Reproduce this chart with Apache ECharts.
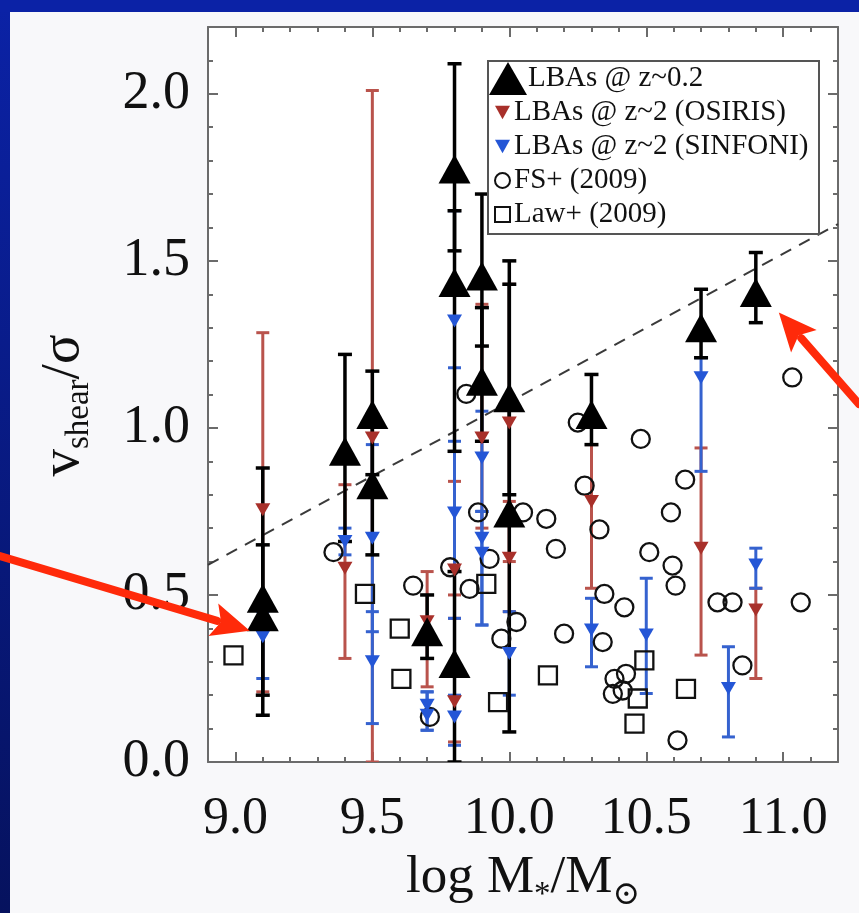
<!DOCTYPE html>
<html>
<head>
<meta charset="utf-8">
<script src="https://cdn.jsdelivr.net/npm/echarts@6/dist/echarts.min.js"></script>
<style>
  html, body { margin: 0; padding: 0; background: #f8f8fa; }
  #chart { width: 859px; height: 913px; }
</style>
</head>
<body>
<div id="chart"></div>
<script>
// ---- LBAs @ z~0.2 (filled black triangles, with error bars)
const lbaX  = [9.1, 9.1, 9.4, 9.5, 9.5, 9.7, 9.8, 9.8, 9.8, 9.9, 9.9, 10.0, 10.0, 10.3, 10.7, 10.9];
const lbaY  = [0.49, 0.435, 0.93, 1.04, 0.83, 0.39, 1.775, 1.435, 0.295, 1.455, 1.14, 1.09, 0.745, 1.04, 1.30, 1.405];
const lbaLo = [0.14, 0.20, 0.66, 0.86, 0.62, 0.31, 1.53, 0.93, 0.0, 1.245, 0.96, 0.80, 0.09, 0.95, 1.21, 1.315];
const lbaHi = [0.88, 0.65, 1.22, 1.17, 1.04, 0.50, 2.09, 1.65, 0.57, 1.70, 1.36, 1.43, 1.50, 1.16, 1.415, 1.525];

// ---- LBAs @ z~2, OSIRIS (red down-triangles)
const osiX  = [9.1, 9.4, 9.5, 9.7, 9.8, 9.8, 9.9, 10.0, 10.0, 10.3, 10.7, 10.9];
const osiY  = [0.755, 0.58, 0.97, 0.42, 0.575, 0.18, 0.97, 1.015, 0.61, 0.78, 0.64, 0.455];
const osiLo = [0.21, 0.31, 0.0, 0.225, 0.43, 0.06, 0.70, 0.60, 0.45, 0.52, 0.32, 0.25];
const osiHi = [1.285, 0.83, 2.01, 0.57, 0.84, 0.50, 1.37, 1.43, 0.78, 0.95, 0.94, 0.52];

// ---- LBAs @ z~2, SINFONI (blue down-triangles)
const sinX  = [9.1, 9.4, 9.5, 9.5, 9.7, 9.7, 9.8, 9.8, 9.8, 9.9, 9.9, 9.9, 10.0, 10.3, 10.5, 10.7, 10.8, 10.9];
const sinY  = [0.375, 0.66, 0.67, 0.30, 0.17, 0.14, 1.32, 0.745, 0.135, 0.91, 0.67, 0.625, 0.325, 0.395, 0.38, 1.15, 0.22, 0.59];
const sinLo = [0.25, 0.62, 0.39, 0.115, 0.095, 0.095, 1.18, 0.43, 0.05, 0.75, 0.41, 0.41, 0.20, 0.285, 0.205, 0.87, 0.075, 0.52];
const sinHi = [0.45, 0.70, 0.95, 0.45, 0.21, 0.21, 1.65, 0.96, 0.20, 1.05, 0.75, 0.75, 0.45, 0.49, 0.55, 1.21, 0.345, 0.64];

// ---- FS+ (2009) (open circles)
const fsX = [9.358, 9.649, 9.71, 9.784, 9.843, 9.855, 9.886, 9.928, 9.971, 10.026, 10.05, 10.135, 10.17, 10.2,
             10.25, 10.275, 10.329, 10.341, 10.347, 10.378, 10.384, 10.414, 10.42, 10.426, 10.48, 10.511,
             10.59, 10.596, 10.607, 10.614, 10.642, 10.76, 10.815, 10.851, 11.033, 11.064];
const fsY = [0.628, 0.528, 0.135, 0.583, 1.102, 0.518, 0.747, 0.608, 0.369, 0.419, 0.747, 0.728, 0.638, 0.384,
             1.016, 0.827, 0.696, 0.359, 0.503, 0.204, 0.249, 0.214, 0.463, 0.264, 0.967, 0.628,
             0.747, 0.588, 0.528, 0.065, 0.845, 0.478, 0.478, 0.289, 1.151, 0.478];

// ---- Law+ (2009) (open squares)
const lawX = [8.993, 9.473, 9.6, 9.606, 9.916, 9.959, 10.141, 10.457, 10.469, 10.493, 10.645];
const lawY = [0.319, 0.503, 0.399, 0.249, 0.533, 0.179, 0.259, 0.115, 0.19, 0.304, 0.219];

// ---- dashed dividing line
const divX = [8.9, 11.2];
const divY = [0.59, 1.61];

// ---- axis ticks
const xTickLabels = [9.0, 9.5, 10.0, 10.5, 11.0];
const xMinorTicks = [9.0, 9.1, 9.2, 9.3, 9.4, 9.5, 9.6, 9.7, 9.8, 9.9, 10.0, 10.1, 10.2, 10.3, 10.4,
                     10.5, 10.6, 10.7, 10.8, 10.9, 11.0, 11.1];
const yTickLabels = [0.0, 0.5, 1.0, 1.5, 2.0];
const yMinorTicks = [0.1, 0.2, 0.3, 0.4, 0.5, 0.6, 0.7, 0.8, 0.9, 1.0, 1.1, 1.2, 1.3, 1.4, 1.5,
                     1.6, 1.7, 1.8, 1.9, 2.0, 2.1];

const SERIF = "'Liberation Serif', 'DejaVu Serif', serif";
const FRAME = '#6b6b6b';
const RED = '#a8302a';
const RED_BAR = '#b9534c';
const BLUE = '#2456d6';
const BLUE_BAR = '#3562cf';

const zip2 = (a, b) => a.map((v, i) => [v, b[i]]);
const zip3 = (a, b, c) => a.map((v, i) => [v, b[i], c[i]]);

function errorBars(id, xs, lo, hi, color, lw, capW, z) {
  return {
    type: 'custom', id: id, name: id, xAxisIndex: 0, yAxisIndex: 0, z: z, silent: true,
    clip: true,
    data: zip3(xs, lo, hi),
    encode: { x: 0, y: [1, 2] },
    renderItem: function (params, api) {
      const x = api.value(0);
      const a = api.coord([x, api.value(1)]);
      const b = api.coord([x, api.value(2)]);
      const st = { stroke: color, lineWidth: lw };
      return {
        type: 'group',
        children: [
          { type: 'line', shape: { x1: a[0], y1: a[1], x2: b[0], y2: b[1] }, style: st },
          { type: 'line', shape: { x1: a[0] - capW / 2, y1: a[1], x2: a[0] + capW / 2, y2: a[1] }, style: st },
          { type: 'line', shape: { x1: b[0] - capW / 2, y1: b[1], x2: b[0] + capW / 2, y2: b[1] }, style: st }
        ]
      };
    }
  };
}

function frameAxis(dim, position, values, len, withLine) {
  return {
    type: 'value', position: position,
    min: dim === 'x' ? 8.9 : 0, max: dim === 'x' ? 11.2 : 2.2,
    axisLine: { show: withLine, onZero: false, lineStyle: { color: FRAME, width: 2 } },
    axisTick: { show: true, inside: true, length: len, customValues: values, lineStyle: { color: FRAME, width: 2 } },
    axisLabel: { show: false },
    splitLine: { show: false }
  };
}

const DOWN_TRI = 'path://M0,0L10,0L5,9Z';

const chart = echarts.init(document.getElementById('chart'), null, { renderer: 'canvas' });

const xMain = frameAxis('x', 'bottom', xTickLabels, 10, true);
xMain.axisLabel = {
  show: true, customValues: xTickLabels, formatter: v => v.toFixed(1),
  margin: 31, fontFamily: SERIF, fontSize: 52, color: '#111'
};
xMain.name = '{m|log M}{s|*}{m|/M}{s|\u2299}';
xMain.nameLocation = 'middle';
xMain.nameGap = 90;
xMain.nameTextStyle = {
  color: '#111', fontFamily: SERIF,
  rich: {
    m: { fontFamily: SERIF, fontSize: 53, color: '#111', lineHeight: 60, verticalAlign: 'top' },
    s: { fontFamily: SERIF, fontSize: 33, color: '#111', lineHeight: 60, verticalAlign: 'bottom', padding: [20, 0, 0, 0] }
  }
};

const yMain = frameAxis('y', 'left', yTickLabels, 10, true);
yMain.axisLabel = {
  show: true, customValues: yTickLabels, formatter: v => v.toFixed(1),
  margin: 18, fontFamily: SERIF, fontSize: 54, color: '#111'
};
yMain.name = '{m|v}{s|shear}{m|/\u03c3}';
yMain.nameLocation = 'middle';
yMain.nameGap = 112;
yMain.nameTextStyle = {
  color: '#111', fontFamily: SERIF, padding: [0, 22, 0, 0],
  rich: {
    m: { fontFamily: SERIF, fontSize: 55, color: '#111', lineHeight: 60, verticalAlign: 'top' },
    s: { fontFamily: SERIF, fontSize: 33, color: '#111', lineHeight: 60, verticalAlign: 'bottom', padding: [20, 0, 0, 0] }
  }
};

const option = {
  backgroundColor: '#f8f8fa',
  animation: false,
  grid: {
    left: 208, top: 27, width: 630, height: 735,
    containLabel: false, outerBoundsMode: 'none',
    show: true, backgroundColor: '#ffffff', borderWidth: 0
  },
  xAxis: [
    xMain,
    frameAxis('x', 'bottom', xMinorTicks, 5, false),
    frameAxis('x', 'top', xTickLabels, 10, true),
    frameAxis('x', 'top', xMinorTicks, 5, false)
  ],
  yAxis: [
    yMain,
    frameAxis('y', 'left', yMinorTicks, 5, false),
    frameAxis('y', 'right', yTickLabels, 10, true),
    frameAxis('y', 'right', yMinorTicks, 5, false)
  ],
  legend: [
    {
      data: ['LBAs @ z~0.2'], left: 489, top: 62, orient: 'vertical',
      itemWidth: 38, itemHeight: 33, itemGap: 0, selectedMode: false, padding: 0, z: 6,
      textStyle: { fontFamily: SERIF, fontSize: 29, color: '#111', padding: [0, 0, 0, -4] }
    },
    {
      data: ['LBAs @ z~2 (OSIRIS)', 'LBAs @ z~2 (SINFONI)', 'FS+ (2009)', 'Law+ (2009)'],
      left: 494, top: 98, orient: 'vertical',
      itemWidth: 15, itemHeight: 15, itemGap: 5, selectedMode: false, padding: 0, z: 6,
      textStyle: { fontFamily: SERIF, fontSize: 29, color: '#111', padding: [0, 0, 0, -1] }
    }
  ],
  series: [
    errorBars('osiris-err', osiX, osiLo, osiHi, RED_BAR, 3, 13, 2),
    errorBars('sinfoni-err', sinX, sinLo, sinHi, BLUE_BAR, 3, 13, 2),
    errorBars('lba-err', lbaX, lbaLo, lbaHi, '#000', 3.5, 14, 3),
    {
      type: 'line', name: 'divide', data: zip2(divX, divY), symbol: 'none', z: 1, silent: true,
      lineStyle: { color: '#3a3a3a', width: 2, type: [12, 9] }
    },
    {
      type: 'scatter', name: 'FS+ (2009)', data: zip2(fsX, fsY), symbol: 'circle', symbolSize: 18, z: 4,
      itemStyle: { color: 'rgba(255,255,255,0)', borderColor: '#111', borderWidth: 2.3, opacity: 1 }
    },
    {
      type: 'scatter', name: 'Law+ (2009)', data: zip2(lawX, lawY), symbol: 'rect', symbolSize: 18, z: 4,
      itemStyle: { color: 'rgba(255,255,255,0)', borderColor: '#111', borderWidth: 2.3, opacity: 1 }
    },
    {
      type: 'scatter', name: 'LBAs @ z~2 (OSIRIS)', data: zip2(osiX, osiY), symbol: DOWN_TRI, symbolSize: [15, 13], z: 5,
      itemStyle: { color: RED, opacity: 1 }
    },
    {
      type: 'scatter', name: 'LBAs @ z~2 (SINFONI)', data: zip2(sinX, sinY), symbol: DOWN_TRI, symbolSize: [15, 13], z: 5,
      itemStyle: { color: BLUE, opacity: 1 }
    },
    {
      type: 'scatter', name: 'LBAs @ z~0.2', data: zip2(lbaX, lbaY), symbol: 'triangle', symbolSize: [32, 29], z: 6,
      itemStyle: { color: '#000', opacity: 1 }
    }
  ],
  graphic: [
    { type: 'rect', id: 'stripLeft', left: 0, top: 0, z: 0, shape: { width: 10, height: 913 },
      style: { fill: new echarts.graphic.LinearGradient(0, 0, 0, 1, [{ offset: 0, color: '#0b22a6' }, { offset: 1, color: '#06125e' }]) } },
    { type: 'rect', id: 'stripTop', left: 0, top: 0, z: 0, shape: { width: 859, height: 12 },
      style: { fill: '#0b22a6' } },
    { type: 'rect', id: 'legendBox', left: 487, top: 60, z: 5, shape: { width: 331, height: 173 },
      style: { fill: '#ffffff', stroke: '#555', lineWidth: 2 } }
  ]
};

chart.setOption(option);

// Red pointer arrows aimed at two of the z~0.2 galaxies
function arrowShapes(id, tip, vec) {
  const len = Math.hypot(vec[0], vec[1]);
  const ux = vec[0] / len, uy = vec[1] / len;
  const headL = 38, headW = 34;
  const base = [tip[0] - ux * headL, tip[1] - uy * headL];
  const start = [tip[0] - vec[0], tip[1] - vec[1]];
  const color = '#ff2a0a';
  return [
    { type: 'line', id: id + '-shaft', z: 50,
      shape: { x1: start[0], y1: start[1], x2: base[0] + ux * 4, y2: base[1] + uy * 4 },
      style: { stroke: color, lineWidth: 8, lineCap: 'round' } },
    { type: 'polygon', id: id + '-head', z: 50,
      shape: { points: [tip, [base[0] - uy * headW / 2, base[1] + ux * headW / 2],
                        [base[0] + ux * 8, base[1] + uy * 8],
                        [base[0] + uy * headW / 2, base[1] - ux * headW / 2]] },
      style: { fill: color } }
  ];
}

const pLeft = chart.convertToPixel({ xAxisIndex: 0, yAxisIndex: 0 }, [lbaX[1], lbaY[1]]);
const pRight = chart.convertToPixel({ xAxisIndex: 0, yAxisIndex: 0 }, [lbaX[15], lbaY[15]]);
const tipL = [pLeft[0] - 13, pLeft[1] + 14];
const tipR = [pRight[0] + 23, pRight[1] + 20];
chart.setOption({
  graphic: [].concat(
    arrowShapes('arrowL', tipL, [tipL[0] - 0, tipL[1] - 556]),
    arrowShapes('arrowR', tipR, [tipR[0] - 859, tipR[1] - 404])
  )
});
</script>
</body>
</html>
